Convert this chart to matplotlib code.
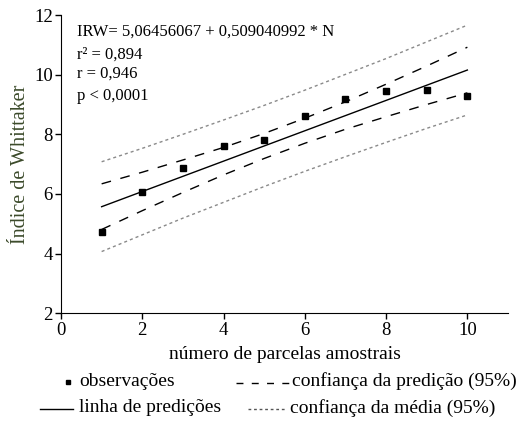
import matplotlib
matplotlib.use("Agg")
import matplotlib.pyplot as plt
from matplotlib.lines import Line2D

plt.rcParams['font.family'] = ['Liberation Serif', 'DejaVu Serif']

# Data
N = [1, 2, 3, 4, 5, 6, 7, 8, 9, 10]
irw_obs = [4.73, 6.05, 6.86, 7.60, 7.81, 8.63, 9.17, 9.45, 9.48, 9.27]
intercept = 5.06456067
slope = 0.509040992
inner_upper = [6.34, 6.73, 7.14, 7.56, 8.03, 8.54, 9.09, 9.68, 10.29, 10.92]
inner_lower = [4.81, 5.44, 6.05, 6.64, 7.19, 7.70, 8.17, 8.59, 9.00, 9.39]
outer_upper = [7.08, 7.53, 8.00, 8.48, 8.97, 9.48, 10.01, 10.54, 11.10, 11.66]
outer_lower = [4.07, 4.63, 5.19, 5.72, 6.25, 6.76, 7.25, 7.73, 8.20, 8.65]
xticks = [0, 2, 4, 6, 8, 10]
yticks = [2, 4, 6, 8, 10, 12]

fig = plt.figure(figsize=(5.2, 4.28), dpi=100)
ax = fig.add_axes([61/520, 1-313.3/428, (508-61)/520, (313.3-15)/428])

pred = [intercept + slope*n for n in N]
ax.plot(N, outer_upper, color='#8a8a8a', lw=1.0, ls=(0, (2.2, 2.2)))
ax.plot(N, outer_lower, color='#8a8a8a', lw=1.0, ls=(0, (2.2, 2.2)))
ax.plot(N, inner_upper, color='black', lw=1.0, ls=(0, (7, 7)))
ax.plot(N, inner_lower, color='black', lw=1.0, ls=(0, (7, 7)))
ax.plot(N, pred, color='black', lw=1.0)
ax.plot(N, irw_obs, ls='none', marker='s', ms=4.2, color='black')

ax.set_xlim(0, 11)
ax.set_ylim(2, 12)
ax.set_xticks(xticks)
ax.set_yticks(yticks)
ax.spines['top'].set_visible(False)
ax.spines['right'].set_visible(False)
ax.tick_params(direction='out', length=4, width=1, labelsize=13.5, pad=2)
ax.set_xlabel('número de parcelas amostrais', fontsize=14, labelpad=5)
ax.set_ylabel('Índice de Whittaker', fontsize=14.5, color='#3b4a2a', labelpad=3)

# Annotations
ax.text(0.035, 0.97, 'IRW= 5,06456067 + 0,509040992 * N', transform=ax.transAxes,
        fontsize=12, va='top', ha='left')
ax.text(0.035, 0.895, 'r² = 0,894', transform=ax.transAxes, fontsize=12, va='top', ha='left')
ax.text(0.035, 0.83, 'r = 0,946', transform=ax.transAxes, fontsize=12, va='top', ha='left')
ax.text(0.035, 0.755, 'p < 0,0001', transform=ax.transAxes, fontsize=12, va='top', ha='left')

# Legend (manual)
def fy(py):
    return 1 - py/428
def fx(px):
    return px/520

fig.add_artist(Line2D([fx(68)], [fy(382)], marker='s', ms=3.5, color='black', ls='none'))
fig.text(fx(79), fy(381), 'observações', fontsize=14, va='center', ha='left')
fig.add_artist(Line2D([fx(236), fx(289)], [fy(383), fy(383)], color='black', lw=1.0,
                      ls=(0, (5, 6))))
fig.text(fx(292), fy(381), 'confiança da predição (95%)', fontsize=14, va='center', ha='left')

fig.add_artist(Line2D([fx(40), fx(73)], [fy(409), fy(409)], color='black', lw=1.0))
fig.text(fx(79), fy(408), 'linha de predições', fontsize=14, va='center', ha='left')
fig.add_artist(Line2D([fx(248), fx(286)], [fy(409), fy(409)], color='#555555', lw=1.0,
                      ls=(0, (2, 2))))
fig.text(fx(290), fy(408), 'confiança da média (95%)', fontsize=14, va='center', ha='left')

fig.savefig('out.png', dpi=100)
